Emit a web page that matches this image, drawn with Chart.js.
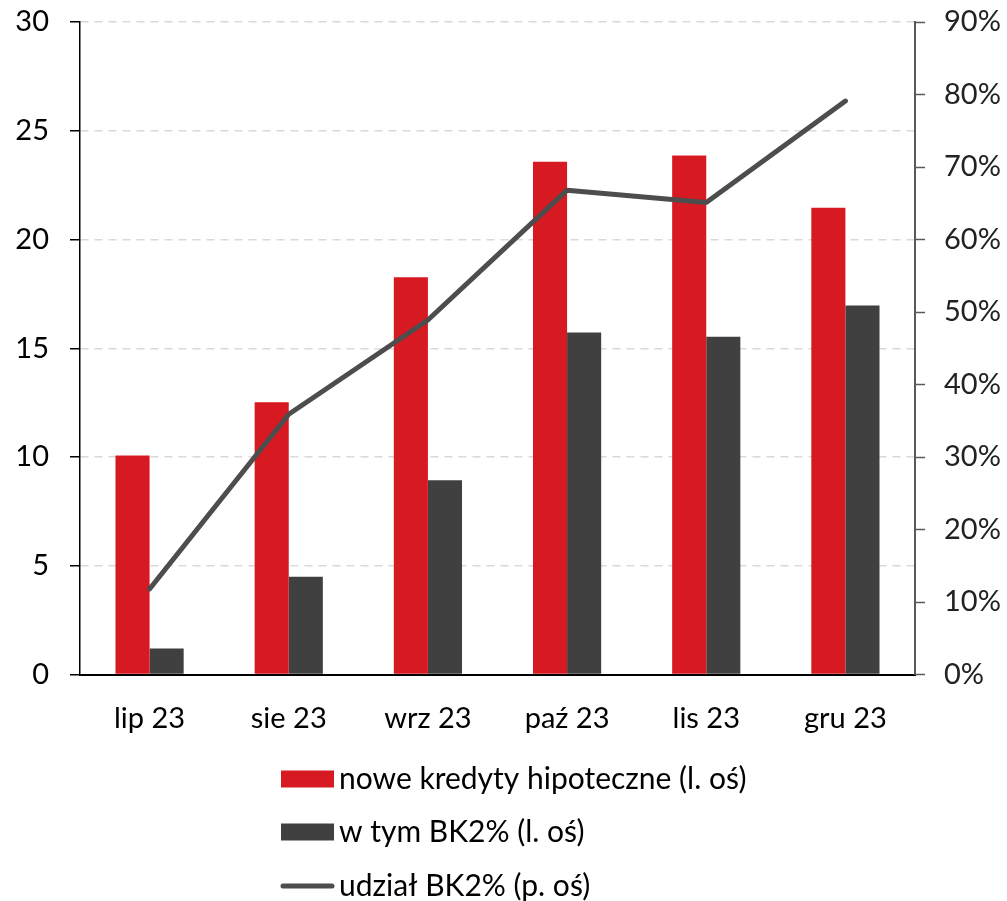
<!DOCTYPE html>
<html>
<head>
<meta charset="utf-8">
<script src="https://cdn.jsdelivr.net/npm/chart.js@4.4.1/dist/chart.umd.min.js"></script>
<style>
  html, body { margin: 0; padding: 0; background: #ffffff; }
  #wrap { width: 1007px; height: 901px; position: relative; }
</style>
</head>
<body>
<div id="wrap"><canvas id="c" width="1007" height="901"></canvas></div>
<script>
// Monthly mortgage data, 2023
const categories = ['lip 23', 'sie 23', 'wrz 23', 'paź 23', 'lis 23', 'gru 23'];
const newMortgages = [10.07, 12.52, 18.26, 23.57, 23.86, 21.46];
const bk2Mortgages = [1.19, 4.49, 8.93, 15.72, 15.53, 16.96];
const bk2Share = [11.8, 35.9, 48.9, 66.8, 65.1, 79.1];
const leftTicks = [0, 5, 10, 15, 20, 25, 30];
const rightTicks = [0, 10, 20, 30, 40, 50, 60, 70, 80, 90];
const seriesNames = ['nowe kredyty hipoteczne (l. oś)', 'w tym BK2% (l. oś)', 'udział BK2% (p. oś)'];

const FONT = 'Lato, "Open Sans", sans-serif';
const RED = '#d71a21';
const DARK = '#404040';
const LINE = '#4d4d4d';

// Vertical legend drawn under the plot, one entry per row
const stackedLegend = {
  id: 'stackedLegend',
  afterDraw(chart) {
    const ctx = chart.ctx;
    const x0 = 281, boxW = 53, textX = 339;
    const rows = [779, 832, 886];
    ctx.save();
    ctx.font = '30px ' + FONT;
    ctx.textBaseline = 'middle';
    chart.data.datasets.forEach((ds, i) => {
      const y = rows[i];
      if (ds.type === 'line') {
        ctx.strokeStyle = ds.borderColor;
        ctx.lineWidth = 5;
        ctx.lineCap = 'round';
        ctx.beginPath();
        ctx.moveTo(x0 + 2, y);
        ctx.lineTo(x0 + boxW - 2, y);
        ctx.stroke();
      } else {
        ctx.fillStyle = ds.backgroundColor;
        ctx.fillRect(x0, y - 8.5, boxW, 17);
      }
      ctx.fillStyle = '#000000';
      ctx.fillText(ds.label, textX, y);
    });
    ctx.restore();
  }
};

// Fixed axis sizes so the plot area sits at a set place on the canvas
function fixVertical(width) {
  return s => { s.width = width; s.paddingTop = 0; s.paddingBottom = 0; };
}

new Chart(document.getElementById('c'), {
  data: {
    labels: categories,
    datasets: [
      {
        type: 'bar', label: seriesNames[0], data: newMortgages, yAxisID: 'y',
        backgroundColor: RED, categoryPercentage: 0.49, barPercentage: 1, order: 1
      },
      {
        type: 'bar', label: seriesNames[1], data: bk2Mortgages, yAxisID: 'y',
        backgroundColor: DARK, categoryPercentage: 0.49, barPercentage: 1, order: 1
      },
      {
        type: 'line', label: seriesNames[2], data: bk2Share, yAxisID: 'y2',
        borderColor: LINE, borderWidth: 5, pointRadius: 0, tension: 0,
        borderCapStyle: 'round', borderJoinStyle: 'round', order: 0
      }
    ]
  },
  options: {
    responsive: false,
    animation: false,
    layout: { padding: { top: 22, bottom: 166.5, left: 0, right: 0 } },
    plugins: { legend: { display: false }, tooltip: { enabled: false } },
    scales: {
      x: {
        grid: { display: false },
        border: { color: '#000000', width: 2 },
        ticks: { color: '#000000', font: { family: FONT, size: 29 }, padding: 19, maxRotation: 0 },
        afterFit(s) { s.height = 60; s.paddingLeft = 0; s.paddingRight = 0; }
      },
      y: {
        position: 'left', min: 0, max: 30,
        afterBuildTicks(s) { s.ticks = leftTicks.map(v => ({ value: v })); },
        grid: {
          color: '#d9d9d9', lineWidth: 1.5,
          tickColor: '#000000', tickBorderDash: [], tickWidth: 1.5, tickLength: 10
        },
        border: { color: '#000000', width: 1.5, dash: [8, 6] },
        ticks: { color: '#000000', font: { family: FONT, size: 29 }, padding: 21 },
        afterFit: fixVertical(80)
      },
      y2: {
        position: 'right', min: 0, max: 90,
        afterBuildTicks(s) { s.ticks = rightTicks.map(v => ({ value: v })); },
        grid: { drawOnChartArea: false, tickColor: '#595959', tickWidth: 1.5, tickLength: 10 },
        border: { color: '#595959', width: 2 },
        ticks: { color: '#222222', font: { family: FONT, size: 29 }, padding: 19,
                 callback: v => v + '%' },
        afterFit: fixVertical(92)
      }
    }
  },
  plugins: [stackedLegend]
});
</script>
</body>
</html>
